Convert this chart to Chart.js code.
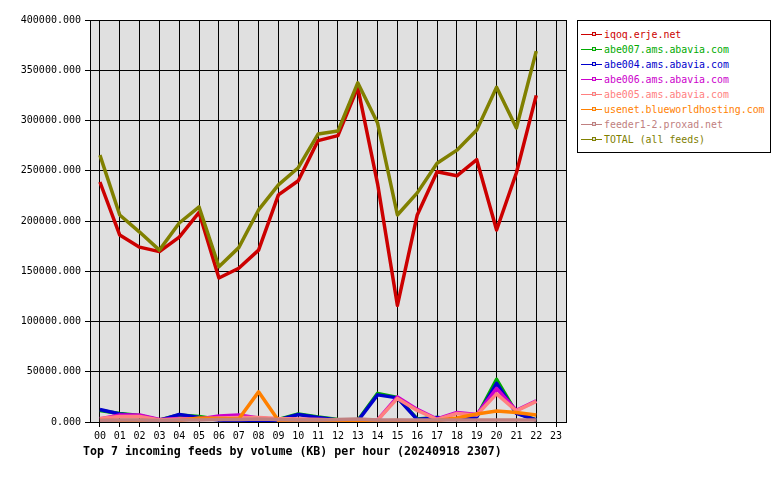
<!DOCTYPE html>
<html>
<head>
<meta charset="utf-8">
<script src="https://cdn.jsdelivr.net/npm/chart.js@4.4.1/dist/chart.umd.min.js"></script>
<style>
  body { margin: 0; background: #fff; }
  #wrap { position: relative; width: 780px; height: 480px; }
  #legend {
    position: absolute; left: 577px; top: 20px; width: 192px; height: 131px;
    border: 1px solid #000; background: #fff;
    font-family: "DejaVu Sans Mono", monospace; font-size: 9.9px;
  }
  .row { position: absolute; left: 0; height: 15px; width: 190px; }
  .sample { position: absolute; left: 3px; top: 7px; width: 21px; height: 0; border-top: 1px solid; }
  .mark { position: absolute; left: 11px; top: -3px; width: 2px; height: 2px; border: 1px solid; background: #e0e0e0; }
  .lbl { position: absolute; left: 26px; top: 0; line-height: 15px; white-space: nowrap; }
  #title {
    position: absolute; left: 83px; top: 444px;
    font-family: "DejaVu Sans Mono", monospace; font-weight: bold; font-size: 11.6px; line-height: 14px;
    white-space: nowrap;
  }
</style>
</head>
<body>
<div id="wrap">
  <canvas id="feedChart" width="780" height="480"></canvas>
  <div id="legend"></div>
  <div id="title">Top 7 incoming feeds by volume (KB) per hour (20240918 2307)</div>
</div>
<script>
// hours on the x axis (no data yet for 23)
const hours = ['00','01','02','03','04','05','06','07','08','09','10','11',
               '12','13','14','15','16','17','18','19','20','21','22','23'];

const feedNames = [
    'iqoq.erje.net',
    'abe007.ams.abavia.com',
    'abe004.ams.abavia.com',
    'abe006.ams.abavia.com',
    'abe005.ams.abavia.com',
    'usenet.blueworldhosting.com',
    'feeder1-2.proxad.net',
    'TOTAL (all feeds)'
];

const feedColors = ['#cc0000', '#00aa00', '#0000cc', '#cc00cc', '#ff8080', '#ff8000', '#c08080', '#808000'];

// KB per hour
const iqoq = [238800, 186000, 174000, 169500, 184000, 208500, 143300, 153000, 171000, 226000, 240000, 280000,
              285000, 333000, 237000, 116000, 206000, 249000, 245000, 261000, 191000, 248000, 325000];
const abe007 = [11500, 8500, 6500, 2000, 7000, 5500, 2500, 1500, 1500, 2500, 8000, 5000,
                2500, 1500, 28500, 24500, 3000, 4500, 2500, 5500, 42500, 9000, 2000];
const abe004 = [12500, 8000, 6000, 1500, 7500, 4500, 2000, 1000, 1000, 2000, 7500, 4500,
                2000, 1000, 27000, 24000, 2500, 4500, 3000, 5000, 38500, 8500, 2000];
const abe006 = [3000, 7000, 7000, 2500, 3500, 3000, 6000, 7000, 4000, 2500, 2500, 2500,
                2000, 1500, 2000, 25000, 12500, 3000, 9500, 7500, 33500, 11500, 21000];
const abe005 = [3500, 5500, 5500, 2000, 3000, 3000, 4000, 4500, 4500, 3500, 3000, 2500,
                2000, 1500, 2000, 23500, 11500, 2500, 8500, 7000, 28000, 11000, 20500];
const blueworld = [1500, 1500, 1500, 1000, 1500, 4000, 3500, 3000, 30000, 1500, 1500, 1500,
                   1000, 1000, 1000, 1500, 1000, 1500, 4000, 8000, 11000, 9500, 7000];
const proxad = [1500, 2000, 2000, 1500, 2000, 2000, 2500, 2500, 3000, 2500, 2000, 2000,
                2500, 3000, 2000, 2000, 2000, 2000, 2000, 2000, 2000, 2000, 2000];
const total = [265500, 206000, 189000, 171000, 198000, 214000, 154500, 173500, 211000, 236000, 253000, 286500,
               289500, 337500, 297500, 206000, 228000, 257500, 270500, 290500, 333000, 292500, 369000];

const yTicks = { min: 0, max: 400000, step: 50000 };

const seriesData = [iqoq, abe007, abe004, abe006, abe005, blueworld, proxad, total];

// html legend
const legend = document.getElementById('legend');
feedNames.forEach(function (name, i) {
    const row = document.createElement('div');
    row.className = 'row';
    row.style.top = (6 + i * 15) + 'px';
    row.style.color = feedColors[i];
    row.innerHTML = '<div class="sample" style="border-color:' + feedColors[i] + '">' +
        '<div class="mark" style="border-color:' + feedColors[i] + '"></div></div>' +
        '<div class="lbl">' + name + '</div>';
    legend.appendChild(row);
});

// gray plot background + frame
const plotFrame = {
    id: 'plotFrame',
    beforeDraw(chart) {
        const a = chart.chartArea;
        const ctx = chart.ctx;
        ctx.save();
        ctx.fillStyle = '#e0e0e0';
        ctx.fillRect(a.left, a.top, a.right - a.left, a.bottom - a.top);
        ctx.restore();
    },
    afterDraw(chart) {
        const a = chart.chartArea;
        const ctx = chart.ctx;
        ctx.save();
        ctx.strokeStyle = '#000';
        ctx.lineWidth = 1;
        ctx.beginPath();
        ctx.moveTo(Math.round(a.right) + 0.5, a.top);
        ctx.lineTo(Math.round(a.right) + 0.5, a.bottom);
        ctx.stroke();
        ctx.restore();
    }
};

const ctx = document.getElementById('feedChart').getContext('2d');
new Chart(ctx, {
    type: 'line',
    data: {
        labels: hours,
        datasets: seriesData.map(function (d, i) {
            return {
                label: feedNames[i],
                data: d,
                borderColor: feedColors[i],
                backgroundColor: feedColors[i],
                borderWidth: 3.5,
                borderJoinStyle: 'round',
                pointRadius: 0,
                tension: 0,
                fill: false,
                order: seriesData.length - i // later feeds drawn on top
            };
        })
    },
    options: {
        responsive: false,
        animation: false,
        layout: { padding: { left: 0, top: 20, right: 214, bottom: 0 } },
        plugins: {
            legend: { display: false },
            title: { display: false },
            tooltip: { enabled: false }
        },
        scales: {
            x: {
                offset: true,
                afterFit: function (s) { s.height = 58; },
                grid: { color: '#000', offset: false, tickLength: 5, tickColor: '#000' },
                border: { color: '#000' },
                ticks: {
                    autoSkip: false, maxRotation: 0, color: '#000', padding: 3,
                    font: { family: 'DejaVu Sans Mono', size: 10 }
                }
            },
            y: {
                min: yTicks.min,
                max: yTicks.max,
                afterFit: function (s) { s.width = 90; },
                grid: { color: '#000', tickLength: 5, tickColor: '#000' },
                border: { color: '#000' },
                ticks: {
                    stepSize: yTicks.step, color: '#000', padding: 4,
                    font: { family: 'DejaVu Sans Mono', size: 10 },
                    callback: function (v) { return v.toFixed(3); }
                }
            }
        }
    },
    plugins: [plotFrame]
});
</script>
</body>
</html>
